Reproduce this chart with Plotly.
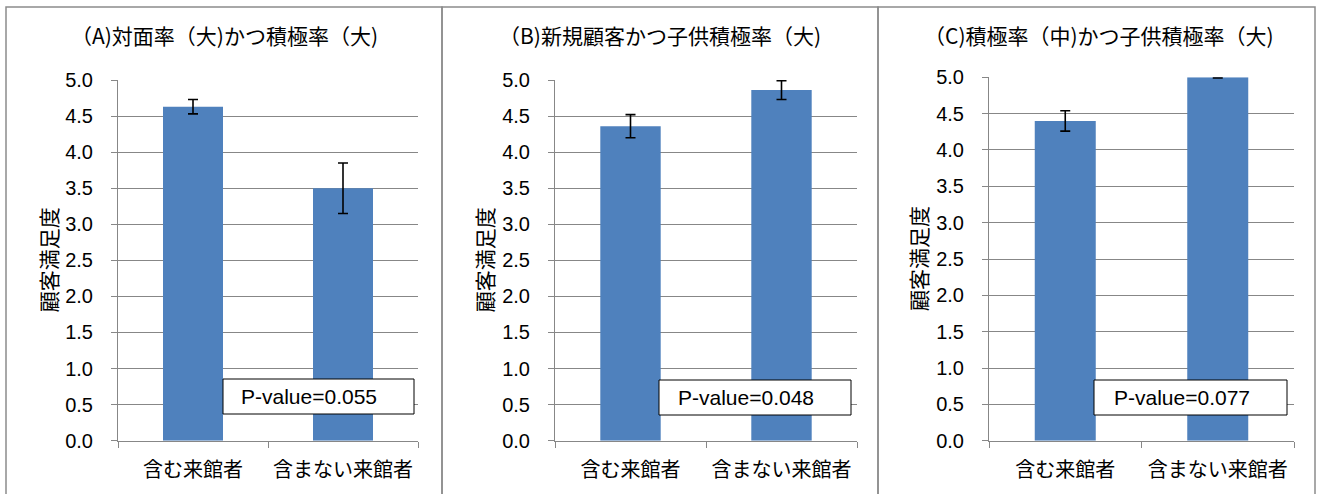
import plotly.graph_objects as go

# ---- data ----
categories = ["含む来館者", "含まない来館者"]
panel_titles = [
    "（A)対面率（大)かつ積極率（大)",
    "（B)新規顧客かつ子供積極率（大)",
    "（C)積極率（中)かつ子供積極率（大)",
]
means_a = [4.63, 3.50]
err_a = [0.10, 0.35]
means_b = [4.36, 4.86]
err_b = [0.16, 0.13]
means_c = [4.40, 5.00]
err_c = [0.14, 0.01]
p_values = ["0.055", "0.048", "0.077"]
y_title = "顧客満足度"
y_ticks = [0, 0.5, 1.0, 1.5, 2.0, 2.5, 3.0, 3.5, 4.0, 4.5, 5.0]

W, H = 1319, 494
BAR = "#4F81BD"
GRID = "#878787"
LATIN = "Liberation Sans, Arial, Noto Sans CJK JP"
CJK = "Noto Sans CJK JP, Liberation Sans"


def px(x):
    return x / W


def py(y):
    return 1 - y / H


# plot-area layout per panel (pixel boxes)
panels = [
    dict(x0=118, x1=418, top=80.0, bottom=440.7, frame=(6, 442), title_x=224, ylab_x=48,
         box=(223, 414, 379, 414), text_x=239),
    dict(x0=555, x1=857, top=80.0, bottom=440.7, frame=(442, 878), title_x=660, ylab_x=484,
         box=(659, 851, 380, 415), text_x=676),
    dict(x0=989, x1=1294, top=77.3, bottom=440.7, frame=(878, 1315), title_x=1099, ylab_x=918,
         box=(1094, 1287, 380, 415), text_x=1112),
]
series = [(means_a, err_a), (means_b, err_b), (means_c, err_c)]

fig = go.Figure()
shapes = []
annotations = []

for i, (p, (vals, errs)) in enumerate(zip(panels, series)):
    n = "" if i == 0 else str(i + 1)
    fig.add_trace(go.Bar(
        x=categories, y=vals,
        marker=dict(color=BAR, line=dict(width=0)),
        error_y=dict(type="data", array=errs, visible=True, color="black",
                     thickness=1.6, width=5),
        width=0.4, cliponaxis=False, showlegend=False,
        xaxis="x" + n, yaxis="y" + n,
    ))
    axis_common = dict(showline=True, linecolor=GRID, linewidth=1, ticks="outside",
                       ticklen=6, tickcolor=GRID, tickwidth=1, automargin=False,
                       fixedrange=True)
    fig.update_layout(**{
        "xaxis" + n: dict(domain=[px(p["x0"]), px(p["x1"])], anchor="y" + n,
                          range=[-0.5, 1.5], tickson="boundaries", showgrid=False,
                          tickfont=dict(family=CJK, size=20, color="black"),
                          ticklabelstandoff=11, **axis_common),
        "yaxis" + n: dict(domain=[py(p["bottom"]), py(p["top"])], anchor="x" + n,
                          range=[0, 5], tickvals=y_ticks, tickformat=".1f",
                          showgrid=True, gridcolor=GRID, gridwidth=1, zeroline=False,
                          tickfont=dict(family=LATIN, size=20, color="black"),
                          ticklabelstandoff=14, **axis_common),
    })

    # panel frame
    f0, f1 = p["frame"]
    shapes.append(dict(type="rect", xref="paper", yref="paper",
                       x0=px(f0), x1=px(f1), y0=py(7), y1=py(520),
                       line=dict(color="#8C8C8C", width=1.5), layer="below"))
    # p-value box
    bx0, bx1, by0, by1 = p["box"]
    shapes.append(dict(type="rect", xref="paper", yref="paper",
                       x0=px(bx0), x1=px(bx1), y0=py(by0), y1=py(by1),
                       line=dict(color="black", width=1), fillcolor="white", layer="above"))
    annotations.append(dict(text="P-value=" + p_values[i], xref="paper", yref="paper",
                            x=px(p["text_x"]), y=py((by0 + by1) / 2), xanchor="left",
                            yanchor="middle", showarrow=False,
                            font=dict(family=LATIN, size=21, color="black")))
    # panel title
    annotations.append(dict(text=panel_titles[i], xref="paper", yref="paper",
                            x=px(p["title_x"]), y=py(35), xanchor="center", yanchor="middle",
                            showarrow=False, font=dict(family=CJK, size=21, color="black")))
    # y-axis title
    annotations.append(dict(text=y_title, xref="paper", yref="paper",
                            x=px(p["ylab_x"]), y=py((p["top"] + p["bottom"]) / 2),
                            xanchor="center", yanchor="middle", textangle=-90,
                            showarrow=False, font=dict(family=CJK, size=21, color="black")))

fig.update_layout(
    template="none",
    width=W, height=H, margin=dict(l=0, r=0, t=0, b=0, autoexpand=False),
    paper_bgcolor="white", plot_bgcolor="white",
    shapes=shapes, annotations=annotations, bargap=0.6,
)

fig.write_html("out.html", config={"displayModeBar": False})
